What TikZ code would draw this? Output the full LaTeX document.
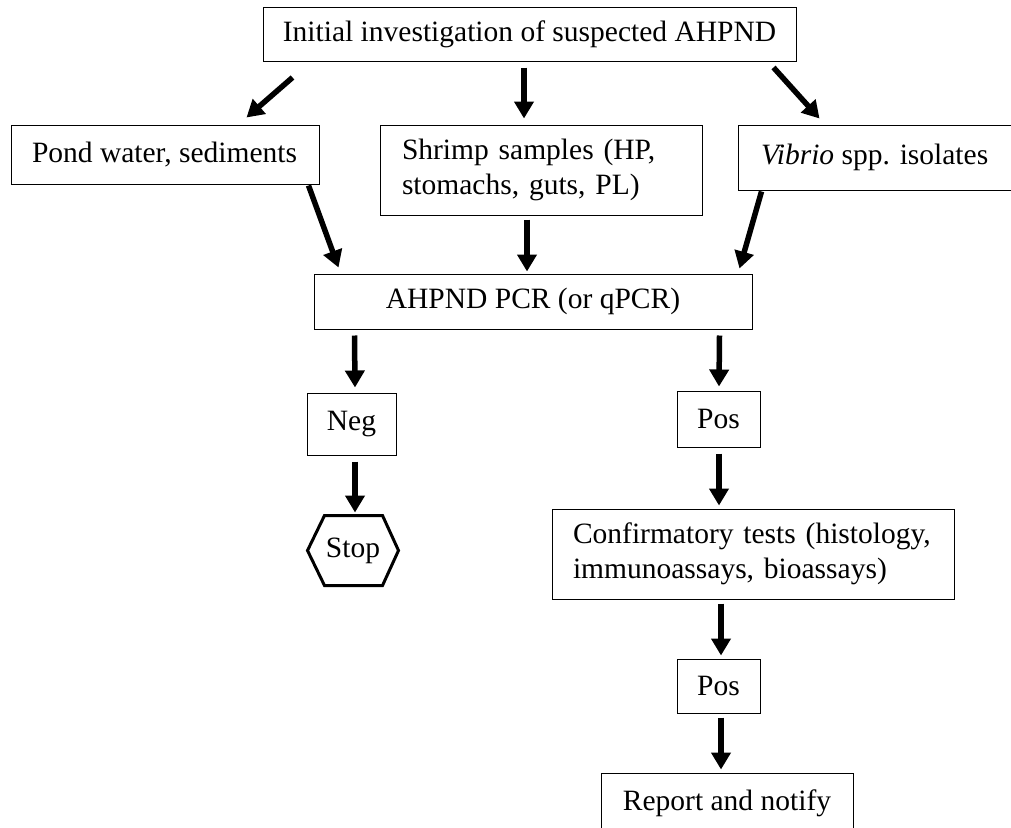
\documentclass[tikz,border=0pt]{standalone}
\usepackage{fontspec}
\setmainfont{Liberation Serif}
\usetikzlibrary{arrows.meta}
\begin{document}
\begin{tikzpicture}[x=1pt,y=-1pt,
  box/.style={draw=black,line width=1pt,rectangle,inner ysep=0pt,inner xsep=0pt,
    font=\fontsize{29.5}{35}\selectfont},
  lbox/.style={box,align=left},
  flow/.style={line width=5.5pt,-{Triangle[length=17pt,width=19pt]}}]
\useasboundingbox (0,0) rectangle (1011,827);
% nodes
\node[box,minimum width=533pt,minimum height=54pt] (top) at (529.5,34) {Initial investigation of suspected AHPND};
\node[box,inner xsep=21pt,minimum height=59pt] (pond) at (165,154.5) {\makebox[266pt][l]{Pond water, sediments}};
\node[lbox,text width=278pt,inner xsep=22pt,minimum height=90pt] (shrimp) at (541,170) {Shrimp samples (HP,\\stomachs, guts, PL)};
\node[box,inner xsep=23pt,minimum height=65pt] (vibrio) at (875.5,157.5) {\makebox[229pt][l]{\textit{Vibrio} spp. isolates}};
\node[box,minimum width=438pt,minimum height=55pt] (pcr) at (533,301.5) {AHPND PCR (or qPCR)};
\node[box,minimum width=89pt,minimum height=62pt] (neg) at (351.5,424) {Neg};
\node[box,draw=none,minimum width=90pt,minimum height=69pt] (stop) at (353,550.5) {Stop};
\draw[line width=3pt,line join=miter] (stop.west) -- ([shift={(17,0)}]stop.north west) -- ([shift={(-16,0)}]stop.north east)
  -- (stop.east) -- ([shift={(-16,0)}]stop.south east) -- ([shift={(17,0)}]stop.south west) -- cycle;
\node[box,minimum width=83pt,minimum height=56pt] (pos) at (718.5,419) {Pos};
\node[lbox,text width=360pt,inner xsep=21pt,minimum height=90pt] (confirm) at (753,554) {Confirmatory tests (histology,\\immunoassays, bioassays)};
\node[box,minimum width=83pt,minimum height=54pt] (pos2) at (718.5,686) {Pos};
\node[box,minimum width=252pt,minimum height=60pt] (report) at (727,803) {Report and notify};
% connectors
\draw[flow] ([shift={(30,16)}]top.south west) -- ([shift={(236,-7)}]pond.north west);
\draw[flow] ([shift={(-5.5,6)}]top.south) -- ([shift={(-17,-6)}]shrimp.north);
\draw[flow] ([shift={(-23,6)}]top.south east) -- ([shift={(82,-6)}]vibrio.north west);
\draw[flow] ([shift={(-11,1)}]pond.south east) -- ([shift={(25,-6)}]pcr.north west);
\draw[flow] ([shift={(-14,4)}]shrimp.south) -- ([shift={(-6,-2)}]pcr.north);
\draw[flow] ([shift={(24,1)}]vibrio.south west) -- ([shift={(-13,-5)}]pcr.north east);
\draw[flow] ([shift={(41,6)}]pcr.south west) -- ([shift={(3.5,-5)}]neg.north);
\draw[flow] ([shift={(3.5,6)}]neg.south) -- ([shift={(2,-3)}]stop.north);
\draw[flow] ([shift={(-33,6)}]pcr.south east) -- ([shift={(0.5,-4)}]pos.north);
\draw[flow] ([shift={(0.5,6)}]pos.south) -- ([shift={(-34,-3)}]confirm.north);
\draw[flow] ([shift={(-32,4)}]confirm.south) -- ([shift={(2.5,-3)}]pos2.north);
\draw[flow] ([shift={(2.5,4)}]pos2.south) -- ([shift={(-6,-3)}]report.north);
\end{tikzpicture}
\end{document}
